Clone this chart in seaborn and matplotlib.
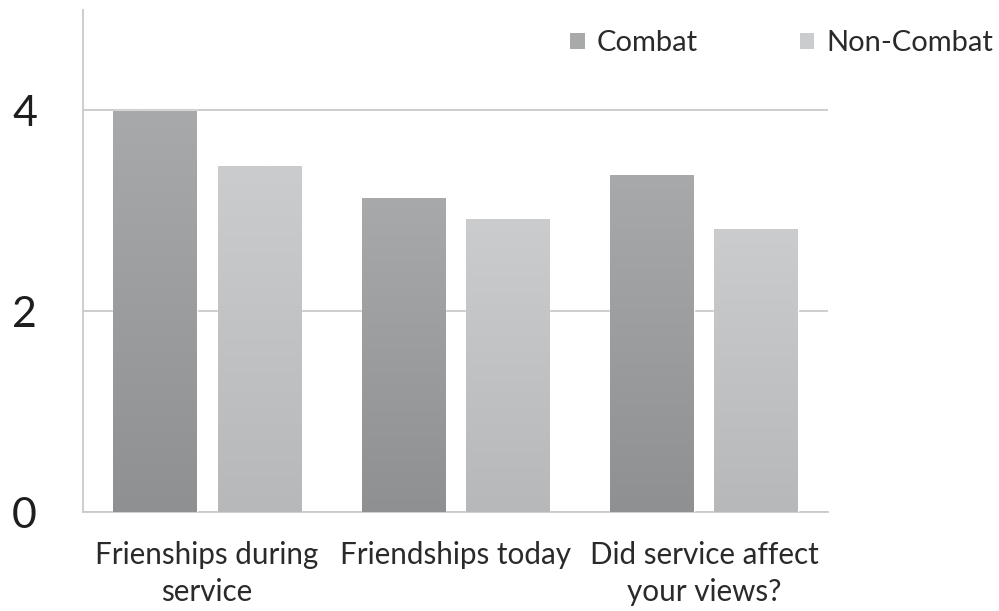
import numpy as np
import pandas as pd
import matplotlib
matplotlib.use("Agg")
import matplotlib.pyplot as plt
import seaborn as sns
from matplotlib.patches import Patch
from matplotlib.colors import LinearSegmentedColormap

# Survey averages by question and service group
questions = ["Frienships during\nservice", "Friendships today", "Did service affect\nyour views?"]
groups = ["Combat", "Non-Combat"]
combat = [3.99, 3.13, 3.36]
non_combat = [3.44, 2.92, 2.82]
yticks = [0, 2, 4]

df = pd.DataFrame({
    "question": questions * 2,
    "group": [groups[0]] * 3 + [groups[1]] * 3,
    "score": combat + non_combat,
})

sns.set_theme(style="white")
plt.rcParams["font.family"] = ["Lato", "DejaVu Sans"]

fig = plt.figure(figsize=(9.99, 6.11), dpi=100)
ax = fig.add_axes([0.083, 0.162, 0.746, 0.822])

top_colors = {"Combat": "#a7a9aa", "Non-Combat": "#cbcccd"}
bottom_colors = {"Combat": "#8e9091", "Non-Combat": "#b7b8b9"}

sns.barplot(data=df, x="question", y="score", hue="group", order=questions,
            hue_order=groups, palette=top_colors, width=0.838, gap=0.2,
            saturation=1, legend=False, ax=ax, zorder=3)

ax.set_ylim(0, 5)
ax.set_xlim(-0.5, 2.5)
ax.set_yticks(yticks)
ax.yaxis.grid(True, color="#c9c9c9", linewidth=1.3, zorder=0)
ax.set_axisbelow(True)
ax.set_xlabel("")
ax.set_ylabel("")

# vertical shading inside each bar
for patch in ax.patches:
    fc = patch.get_facecolor()
    key = "Combat" if np.allclose(fc[:3], matplotlib.colors.to_rgb(top_colors["Combat"])) else "Non-Combat"
    cmap = LinearSegmentedColormap.from_list("shade", [bottom_colors[key], top_colors[key]])
    x0, y0 = patch.get_x(), patch.get_y()
    w, h = patch.get_width(), patch.get_height()
    grad = np.linspace(0, 1, 256).reshape(-1, 1)
    im = ax.imshow(grad, cmap=cmap, aspect="auto", origin="lower",
                   extent=[x0, x0 + w, y0, y0 + h], zorder=4)
    im.set_clip_path(patch)

ax.set_xlim(-0.5, 2.5)
ax.set_ylim(0, 5)

for side in ["top", "right"]:
    ax.spines[side].set_visible(False)
for side in ["left", "bottom"]:
    ax.spines[side].set_color("#c9c9c9")
    ax.spines[side].set_linewidth(1.3)

ax.tick_params(axis="y", length=0, pad=33, labelsize=31, labelcolor="#1e1e1e")
ax.tick_params(axis="x", length=0, pad=21, labelsize=21.3, labelcolor="#2a2a2a")
for lbl in ax.get_xticklabels():
    lbl.set_linespacing(1.4)

handles = [Patch(facecolor=top_colors[g], edgecolor="none") for g in groups]
fig.legend(handles, groups, ncol=2, frameon=False, loc="center left",
           bbox_to_anchor=(0.571, 0.929), fontsize=21, handlelength=0.5,
           handleheight=0.5, handletextpad=0.4, columnspacing=3.5,
           labelcolor="#2a2a2a", borderaxespad=0, borderpad=0)

fig.savefig("out.png", dpi=100)
